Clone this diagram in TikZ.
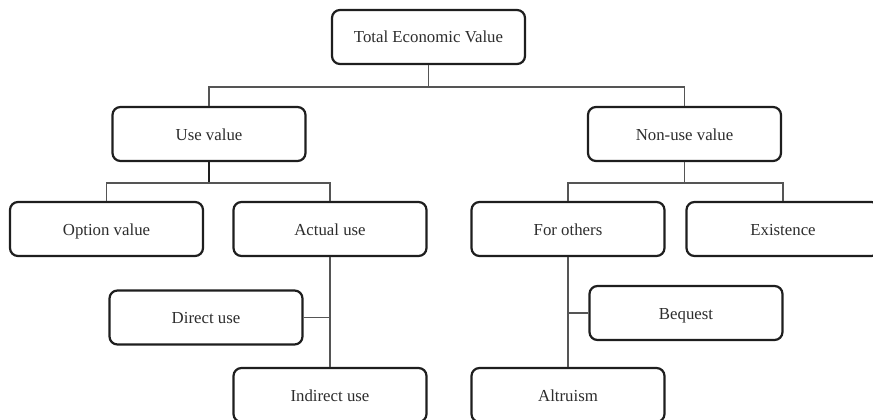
\documentclass[tikz,border=0pt]{standalone}
\usepackage{fontspec}
\setmainfont{Liberation Serif}
\usepackage{tikz}
\usetikzlibrary{positioning}
\usepackage{xcolor}
\definecolor{boxline}{RGB}{30,30,30}
\definecolor{linkgray}{RGB}{85,85,85}
\definecolor{textgray}{RGB}{45,45,45}

\begin{document}
\begin{tikzpicture}[
    x=1pt, y=-1pt,
    every node/.style={font=\fontsize{16.8}{20}\selectfont, text=textgray},
    valbox/.style={rectangle, draw=boxline, fill=white, rounded corners=8pt,
                   minimum width=193pt, minimum height=54pt, align=center, line width=2.2pt,
                   text height=13.5pt, text depth=1.5pt},
    link/.style={line width=1.3pt, color=linkgray},
    stemlink/.style={line width=2pt, color=boxline}
]
\useasboundingbox (0,0) rectangle (873,420);
\clip (0,0) rectangle (873,420);
\node[valbox] (tev) at (428.5,37) {Total Economic Value};
\node[valbox] (use) at (209,134) {Use value};
\node[valbox] (nonuse) at (684.5,134) {Non-use value};
\node[valbox] (option) at (106.5,229) {Option value};
\node[valbox] (actual) at (330,229) {Actual use};
\node[valbox] (others) at (568,229) {For others};
\node[valbox] (exist) at (783,229) {Existence};
\node[valbox] (direct) at (206,317.5) {Direct use};
\node[valbox] (indirect) at (330,395) {Indirect use};
\node[valbox] (bequest) at (686,313) {Bequest};
\node[valbox] (altru) at (568,395) {Altruism};
\draw[link] (tev.south) -- ++(0,22) coordinate (tevbus);
\draw[link] (tevbus) -| (use.north);
\draw[link] (tevbus) -| (nonuse.north);
\draw[stemlink] (use.south) -- ++(0,21) coordinate (usebus);
\draw[link] (usebus) -| (option.north);
\draw[link] (usebus) -| (actual.north);
\draw[link] (nonuse.south) -- ++(0,21) coordinate (nonusebus);
\draw[link] (nonusebus) -| (others.north);
\draw[link] (nonusebus) -| (exist.north);
\draw[link] (actual.south) -- (indirect.north);
\draw[link] (direct.east) -- (direct.east -| actual.south);
\draw[link] (others.south) -- (altru.north);
\draw[link] (bequest.west) -- (bequest.west -| others.south);
\end{tikzpicture}
\end{document}
